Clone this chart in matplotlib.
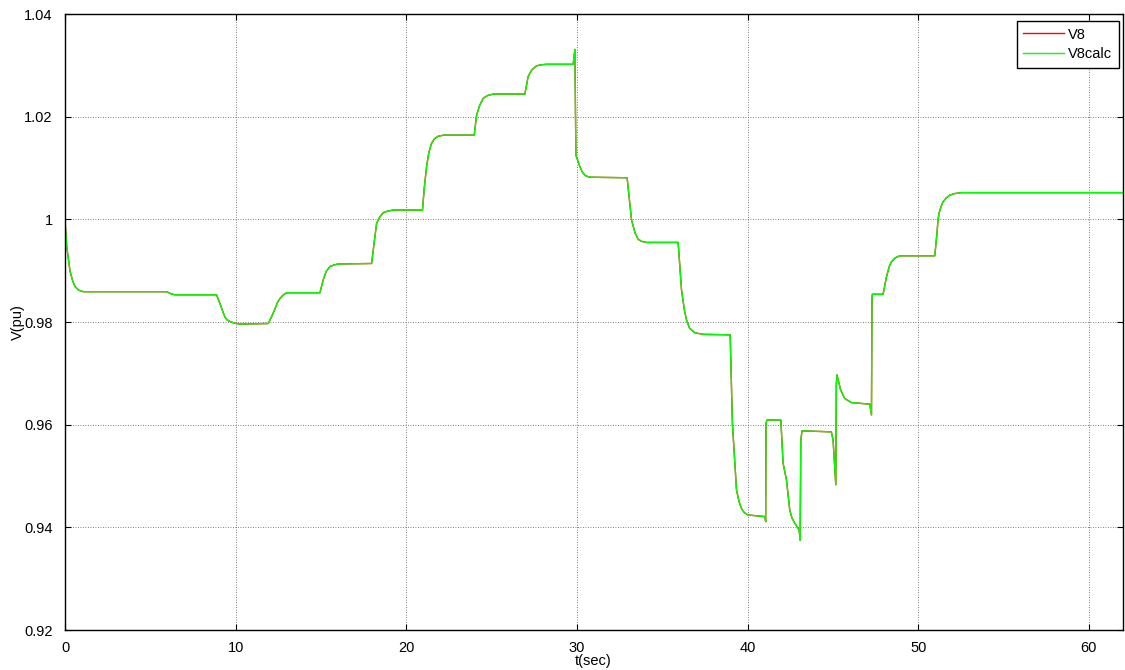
import matplotlib
matplotlib.use("Agg")
import matplotlib.pyplot as plt

# ---- data ----
t = [0.0, 0.1, 0.29, 0.45, 0.59, 0.8, 1.07, 5.96, 6.2, 6.44, 8.88, 9.08, 9.25,
     9.37, 9.5, 9.67, 9.9, 10.25,
     11.91, 12.1, 12.3, 12.45, 12.6, 12.8, 12.99, 14.94, 15.13, 15.3, 15.52,
     15.75, 16.01, 17.97, 18.1, 18.26, 18.45, 18.65, 18.9, 19.23, 20.95, 21.05,
     21.19, 21.32, 21.48, 21.65, 21.87, 22.2, 23.98, 24.12, 24.3, 24.51, 24.75,
     25.09, 26.95, 27.14, 27.35, 27.63, 27.9, 28.22, 29.78, 29.88, 29.94, 30.17,
     30.3, 30.46, 30.65, 30.85, 32.94, 33.2, 33.4, 33.59, 33.8, 34.08, 35.93,
     36.13, 36.3, 36.42, 36.6, 36.91, 37.4, 38.98, 39.11, 39.35, 39.5, 39.64,
     39.8, 40.03, 41.01, 41.06, 41.08, 41.14, 41.95, 42.08, 42.28, 42.47, 42.6,
     42.77, 43.02, 43.08, 43.12, 43.19, 44.91, 45.01, 45.17, 45.2, 45.24, 45.45,
     45.69, 46.08, 47.16, 47.26, 47.29, 47.31, 47.94, 48.14, 48.3, 48.43, 48.65,
     48.92, 50.97, 51.1, 51.16, 51.22, 51.35, 51.45, 51.65, 51.85, 52.1, 52.53,
     62.0]
v8 = [0.9999, 0.9947, 0.990, 0.9880, 0.9869, 0.9862, 0.9859, 0.9859, 0.9855,
      0.9853, 0.9853, 0.9836, 0.9820, 0.981, 0.9804, 0.9801, 0.9798, 0.9796,
      0.9797, 0.9810, 0.9825, 0.9838, 0.9846, 0.9853, 0.9857, 0.9857, 0.9882,
      0.9898, 0.9908, 0.9911, 0.9913, 0.9914, 0.9950, 0.9992, 1.0005, 1.0013,
      1.0016, 1.0018, 1.0018, 1.0060, 1.0103, 1.0130, 1.0148, 1.0157, 1.0162,
      1.0164, 1.0164, 1.0203, 1.0222, 1.0236, 1.0241, 1.0244, 1.0244, 1.0278,
      1.0291, 1.0299, 1.0301, 1.0302, 1.0302, 1.0331, 1.0125, 1.0103, 1.0093,
      1.0086, 1.0083, 1.0082, 1.0081, 0.9999, 0.9974, 0.9961, 0.9957, 0.9955,
      0.9955, 0.9862, 0.9823, 0.9804, 0.9788, 0.9779, 0.9776, 0.9775, 0.9603,
      0.9473, 0.9450, 0.9437, 0.9429, 0.9424, 0.9421, 0.9411, 0.9603, 0.9609,
      0.9609, 0.9525, 0.9492, 0.9434, 0.9418, 0.9408, 0.9395, 0.9375, 0.957,
      0.9588, 0.9586, 0.957, 0.9483, 0.968, 0.9697, 0.9668, 0.9651, 0.9643,
      0.964, 0.9619, 0.9843, 0.9854, 0.9854, 0.9888, 0.9908, 0.9917, 0.9925,
      0.9929, 0.9929, 0.9973, 0.9999, 1.0012, 1.0026, 1.0034, 1.0042, 1.0047,
      1.0050, 1.0052, 1.0052]
v8calc = list(v8)

xticks = [0, 10, 20, 30, 40, 50, 60]
yticks = [0.92, 0.94, 0.96, 0.98, 1.00, 1.02, 1.04]
ytick_labels = ["0.92", "0.94", "0.96", "0.98", "1", "1.02", "1.04"]

plt.rcParams['font.family'] = ['Liberation Sans', 'DejaVu Sans']

fig = plt.figure(figsize=(11.25, 6.7), dpi=100)
ax = fig.add_axes([65/1125, 40/670, (1123-65)/1125, (630-14)/670])

ax.plot(t, v8, color=(1, 0, 0), lw=1.0, label="V8")
ax.plot(t, v8calc, color=(0, 1, 0), lw=1.0, label="V8calc")

ax.set_xlim(0, 62)
ax.set_ylim(0.92, 1.04)
ax.set_xticks(xticks)
ax.set_xticklabels([str(x) for x in xticks])
ax.set_yticks(yticks)
ax.set_yticklabels(ytick_labels)
ax.tick_params(direction='in', length=4, labelsize=10.5, top=True, right=True,
               width=0.8)
ax.tick_params(axis='y', pad=9)
ax.tick_params(axis='x', pad=8)
ax.grid(True, color='#555555', linestyle=(0, (1, 2)), linewidth=0.6)
for s in ax.spines.values():
    s.set_linewidth(1.0)
    s.set_color('black')

ax.set_xlabel("t(sec)", fontsize=10.5)
ax.set_ylabel("V(pu)", fontsize=10.5)
ax.xaxis.set_label_coords((593 - 65) / (1123 - 65), -(661 - 630) / (630 - 14))
ax.yaxis.set_label_coords(-(65 - 18) / (1123 - 65), (630 - 322) / (630 - 14))
ax.xaxis.label.set_va('center')
ax.yaxis.label.set_va('center')

leg = ax.legend(loc='upper right', bbox_to_anchor=(1119/1125, (670-21)/670),
                bbox_transform=fig.transFigure, fancybox=False, framealpha=1,
                edgecolor='black', fontsize=10.5, borderpad=0.45,
                handlelength=2.8, labelspacing=0.4, handletextpad=0.3,
                borderaxespad=0)
leg.get_frame().set_linewidth(1.0)

fig.savefig("out.png", dpi=100)
